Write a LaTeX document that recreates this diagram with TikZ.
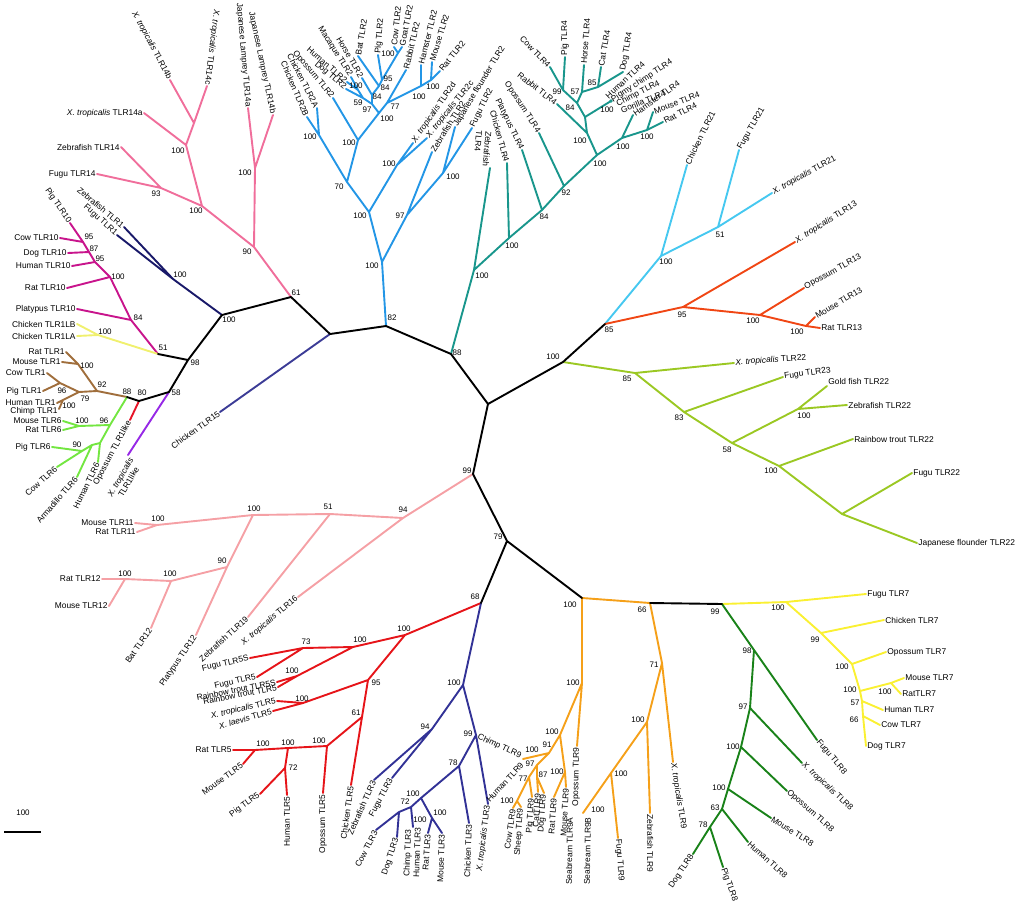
\documentclass[tikz,border=0pt]{standalone}
\usepackage{fontspec}
\usetikzlibrary{calc}
\setmainfont{Liberation Sans}
\definecolor{cpk}{RGB}{240,110,155}
\definecolor{cnv}{RGB}{25,25,105}
\definecolor{cmg}{RGB}{200,20,140}
\definecolor{cyl}{RGB}{240,240,110}
\definecolor{cbr}{RGB}{160,110,60}
\definecolor{cgr}{RGB}{115,230,65}
\definecolor{crd}{RGB}{230,20,40}
\definecolor{cpu}{RGB}{150,40,230}
\definecolor{csl}{RGB}{60,60,150}
\definecolor{cbl}{RGB}{35,150,230}
\definecolor{ctl}{RGB}{25,150,140}
\definecolor{csk}{RGB}{70,200,240}
\definecolor{cor}{RGB}{240,70,20}
\definecolor{clm}{RGB}{155,200,35}
\definecolor{clp}{RGB}{245,160,165}
\definecolor{cr5}{RGB}{230,20,25}
\definecolor{cd3}{RGB}{50,50,150}
\definecolor{co9}{RGB}{245,160,25}
\definecolor{cy7}{RGB}{250,240,50}
\definecolor{cg8}{RGB}{25,130,25}
\newcounter{bsc}
\newcommand\bsl[3]{\stepcounter{bsc}\node[bs] (bs\arabic{bsc}) at (#1,#2) {#3};}
\newcommand\leaf[4]{\node[lb,anchor=#2,rotate=#3] (L#1) at (#1) {#4};}
\newcommand\XT{\textit{X. tropicalis}}
\begin{document}
\begin{tikzpicture}[x=1pt,y=-1pt,
  br/.style={line width=1.9pt, line cap=round, line join=round},
  lb/.style={font=\fontsize{8.4}{9.4}\selectfont, inner sep=1.2pt},
  bs/.style={font=\fontsize{8}{9}\selectfont, inner sep=0pt}]
\useasboundingbox (0,0) rectangle (1023,905);
% ---------- backbone
\coordinate (R0) at (488,404);
\coordinate (B88) at (451,354);
\coordinate (B82) at (386,326);
\coordinate (B15) at (330,334);
\coordinate (B61) at (291,297);
\coordinate (B100a) at (222,315);
\coordinate (B98) at (188,360);
\coordinate (B51) at (158,354);
\coordinate (B58) at (169,392);
\coordinate (B80) at (139,401);
\coordinate (B88b) at (127,397);
\coordinate (N100r) at (563,362);
\coordinate (N85) at (605,324);
\coordinate (B99) at (473,474);
\coordinate (B79) at (507,541);
\coordinate (B68) at (481,603);
\coordinate (O100) at (582,598);
\coordinate (O66) at (650,603);
\coordinate (Y99) at (722,604);
% ---------- TLR14
\coordinate (P90) at (254,247);
\coordinate (P100L) at (255,168);
\coordinate (JL14a) at (248,108);
\coordinate (JL14b) at (273,115);
\coordinate (P100F) at (202,206);
\coordinate (P93) at (161,188);
\coordinate (Fugu14) at (97,174);
\coordinate (Zf14) at (121,147);
\coordinate (P100X) at (186,145);
\coordinate (X14a) at (144,113);
\coordinate (PX) at (194,123);
\coordinate (X14b) at (170,80);
\coordinate (X14c) at (207,86);
\draw[br,cpk] (B61)--(P90) (P90)--(P100L) (P100L)--(JL14a) (P100L)--(JL14b) (P90)--(P100F) (P100F)--(P93) (P93)--(Fugu14) (P93)--(Zf14) (P100F)--(P100X) (P100X)--(X14a) (P100X)--(PX) (PX)--(X14b) (PX)--(X14c);
% ---------- TLR1 fish
\coordinate (N100) at (173,279);
\coordinate (Zf1) at (124,227);
\coordinate (Fugu1) at (117,235);
\draw[br,cnv] (B100a)--(N100) (N100)--(Zf1) (N100)--(Fugu1);
% ---------- TLR10
\coordinate (M84) at (131,320);
\coordinate (M100) at (110,277);
\coordinate (M95a) at (95,262);
\coordinate (M87) at (89,252);
\coordinate (M95b) at (83,242);
\coordinate (Plat10) at (77,309);
\coordinate (Rat10) at (67,288);
\coordinate (Hum10) at (72,266);
\coordinate (Dog10) at (68,253);
\coordinate (Cow10) at (60,238);
\coordinate (Pig10) at (70,223);
\draw[br,cmg] (B51)--(M84) (M84)--(Plat10) (M84)--(M100) (M100)--(Rat10) (M100)--(M95a) (M95a)--(Hum10) (M95a)--(M87) (M87)--(Dog10) (M87)--(M95b) (M95b)--(Cow10) (M95b)--(Pig10);
% ---------- chicken TLR1L
\coordinate (YL100) at (98,335);
\coordinate (LB) at (77,324);
\coordinate (LA) at (77,336);
\draw[br,cyl] (B51)--(YL100) (YL100)--(LB) (YL100)--(LA);
% ---------- TLR1
\coordinate (Br92) at (97,391);
\coordinate (Br100) at (78,364);
\coordinate (Br79) at (79,392);
\coordinate (Br96) at (60,383);
\coordinate (Br100b) at (63,400);
\coordinate (Rat1) at (66,352);
\coordinate (Mouse1) at (62,362);
\coordinate (Cow1) at (47,373);
\coordinate (Pig1) at (43,391);
\coordinate (Hum1) at (57,403);
\coordinate (Chimp1) at (59,409);
\draw[br,cbr] (B88b)--(Br92) (Br92)--(Br100) (Br100)--(Rat1) (Br100)--(Mouse1) (Br92)--(Br79) (Br79)--(Br96) (Br96)--(Cow1) (Br96)--(Pig1) (Br79)--(Br100b) (Br100b)--(Hum1) (Br100b)--(Chimp1);
% ---------- TLR6
\coordinate (G96) at (110,425);
\coordinate (G100) at (79,426);
\coordinate (Gx) at (100,443);
\coordinate (Ga) at (92,445);
\coordinate (G90) at (82,451);
\coordinate (Mouse6) at (63,421);
\coordinate (Rat6) at (63,430);
\coordinate (Hum6) at (98,462);
\coordinate (Arm6) at (77,477);
\coordinate (Pig6) at (52,447);
\coordinate (Cow6) at (57,467);
\draw[br,cgr] (B88b)--(G96) (G96)--(G100) (G100)--(Mouse6) (G100)--(Rat6) (G96)--(Gx) (Gx)--(Hum6) (Gx)--(Ga) (Ga)--(Arm6) (Ga)--(G90) (G90)--(Pig6) (G90)--(Cow6);
% ---------- TLR1like, TLR15
\coordinate (Op1l) at (130,420);
\coordinate (X1l) at (128,455);
\coordinate (Ch15) at (220,412);
\draw[br,crd] (B80)--(Op1l);
\draw[br,cpu] (B58)--(X1l);
\draw[br,csl] (B15)--(Ch15);
% ---------- TLR2
\coordinate (BL100) at (382,262);
\coordinate (BL100b) at (369,212);
\coordinate (BL70) at (347,182);
\coordinate (BL100c) at (319,135);
\coordinate (Ch2A) at (317,108);
\coordinate (Ch2B) at (307,117);
\coordinate (BL100d) at (358,140);
\coordinate (Op2) at (333,98);
\coordinate (BLe) at (379,113);
\coordinate (BL97) at (372,104);
\coordinate (BL59) at (363,98);
\coordinate (Dog2) at (346,89);
\coordinate (BLhm) at (358,90);
\coordinate (Hum2) at (347,82);
\coordinate (Mac2) at (351,77);
\coordinate (BL84a) at (372,95);
\coordinate (Horse2) at (362,78);
\coordinate (BL84b) at (379,86);
\coordinate (Bat2) at (358,56);
\coordinate (BL95) at (382,80);
\coordinate (Pig2) at (378,55);
\coordinate (BLcg) at (398,53);
\coordinate (Cow2) at (394,47);
\coordinate (Goat2) at (402,47);
\coordinate (BL77) at (387,103);
\coordinate (Rab2) at (406,70);
\coordinate (BLr) at (421,86);
\coordinate (Ham2) at (421,65);
\coordinate (BLr2) at (431,80);
\coordinate (Mouse2) at (432,62);
\coordinate (Rat2) at (440,71);
\coordinate (BLx) at (397,165);
\coordinate (X2d) at (413,143);
\coordinate (X2c) at (427,138);
\coordinate (BL97f) at (407,215);
\coordinate (Zf2) at (432,152);
\coordinate (BL100f) at (443,173);
\coordinate (JF2) at (455,127);
\coordinate (Fugu2) at (472,128);
\draw[br,cbl] (B82)--(BL100) (BL100)--(BL100b) (BL100b)--(BL70) (BL70)--(BL100c) (BL100c)--(Ch2A) (BL100c)--(Ch2B) (BL70)--(BL100d) (BL100d)--(Op2) (BL100d)--(BLe) (BLe)--(BL97) (BL97)--(BL59) (BL59)--(Dog2) (BL59)--(BLhm) (BLhm)--(Hum2) (BLhm)--(Mac2) (BL97)--(BL84a) (BL84a)--(Horse2) (BL84a)--(BL84b) (BL84b)--(Bat2) (BL84b)--(BL95) (BL95)--(Pig2) (BL95)--(BLcg) (BLcg)--(Cow2) (BLcg)--(Goat2) (BLe)--(BL77) (BL77)--(Rab2) (BL77)--(BLr) (BLr)--(Ham2) (BLr)--(BLr2) (BLr2)--(Mouse2) (BLr2)--(Rat2) (BL100b)--(BLx) (BLx)--(X2d) (BLx)--(X2c) (BL100)--(BL97f) (BL97f)--(Zf2) (BL97f)--(BL100f) (BL100f)--(JF2) (BL100f)--(Fugu2);
% ---------- TLR4
\coordinate (Tz) at (474,270);
\coordinate (Zf4) at (490,168);
\coordinate (T100a) at (509,238);
\coordinate (Ch4) at (507,163);
\coordinate (T84) at (542,210);
\coordinate (Plat4) at (522,150);
\coordinate (T92) at (564,186);
\coordinate (Op4) at (539,133);
\coordinate (T100b) at (597,155);
\coordinate (T100r) at (587,133);
\coordinate (Rab4) at (557,104);
\coordinate (Te) at (585,117);
\coordinate (T84b) at (577,103);
\coordinate (T99) at (563,90);
\coordinate (Pig4) at (565,57);
\coordinate (Cow4) at (550,67);
\coordinate (T57) at (582,92);
\coordinate (Horse4) at (584,65);
\coordinate (T85) at (598,87);
\coordinate (Cat4) at (601,67);
\coordinate (Dog4) at (623,72);
\coordinate (Tp) at (611,101);
\coordinate (TR1) at (622,138);
\coordinate (Ham4) at (633,115);
\coordinate (TR2) at (647,130);
\coordinate (Mouse4) at (653,112);
\coordinate (Rat4) at (663,122);
\draw[br,ctl] (B88)--(Tz) (Tz)--(Zf4) (Tz)--(T100a) (T100a)--(Ch4) (T100a)--(T84) (T84)--(Plat4) (T84)--(T92) (T92)--(Op4) (T92)--(T100b) (T100b)--(T100r) (T100r)--(Rab4) (T100r)--(Te) (Te)--(T84b) (Te)--(Tp) (T84b)--(T99) (T99)--(Pig4) (T99)--(Cow4) (T84b)--(T57) (T57)--(Horse4) (T57)--(T85) (T85)--(Cat4) (T85)--(Dog4) (T100b)--(TR1) (TR1)--(Ham4) (TR1)--(TR2) (TR2)--(Mouse4) (TR2)--(Rat4);
\fill[ctl] (Tp) circle (1.9);
% ---------- TLR21
\coordinate (S100) at (661,256);
\coordinate (Ch21) at (687,165);
\coordinate (S51) at (718,227);
\coordinate (Fugu21) at (739,150);
\coordinate (X21) at (772,193);
\draw[br,csk] (N85)--(S100) (S100)--(Ch21) (S100)--(S51) (S51)--(Fugu21) (S51)--(X21);
% ---------- TLR13
\coordinate (O95) at (683,307);
\coordinate (X13) at (795,242);
\coordinate (O100m) at (760,315);
\coordinate (Op13) at (804,288);
\coordinate (O100n) at (806,326);
\coordinate (Mouse13) at (815,317);
\coordinate (Rat13) at (820,328);
\draw[br,cor] (N85)--(O95) (O95)--(X13) (O95)--(O100m) (O100m)--(Op13) (O100m)--(O100n) (O100n)--(Mouse13) (O100n)--(Rat13);
% ---------- TLR22
\coordinate (L85) at (635,373);
\coordinate (X22) at (734,363);
\coordinate (L83) at (684,412);
\coordinate (Fugu23) at (783,377);
\coordinate (L58) at (732,443);
\coordinate (L100) at (798,409);
\coordinate (Gold22) at (827,386);
\coordinate (Zf22) at (847,405);
\coordinate (L100b) at (779,466);
\coordinate (RT22) at (853,439);
\coordinate (Lx) at (842,514);
\coordinate (Fugu22) at (912,473);
\coordinate (JF22) at (917,543);
\draw[br,clm] (N100r)--(L85) (L85)--(X22) (L85)--(L83) (L83)--(Fugu23) (L83)--(L58) (L58)--(L100) (L100)--(Gold22) (L100)--(Zf22) (L58)--(L100b) (L100b)--(RT22) (L100b)--(Lx) (Lx)--(Fugu22) (Lx)--(JF22);
% ---------- TLR11/12/16/19
\coordinate (P94) at (403,518);
\coordinate (X16) at (298,597);
\coordinate (P51) at (330,514);
\coordinate (Zf19) at (248,617);
\coordinate (P100) at (253,515);
\coordinate (P100m) at (157,525);
\coordinate (Mouse11) at (135,523);
\coordinate (Rat11) at (137,532);
\coordinate (P90b) at (227,567);
\coordinate (Plat12) at (196,635);
\coordinate (P100b) at (171,581);
\coordinate (Bat12) at (151,628);
\coordinate (P100c) at (125,579);
\coordinate (Rat12) at (102,579);
\coordinate (Mouse12) at (109,606);
\draw[br,clp] (B99)--(P94) (P94)--(X16) (P94)--(P51) (P51)--(Zf19) (P51)--(P100) (P100)--(P100m) (P100m)--(Mouse11) (P100m)--(Rat11) (P100)--(P90b) (P90b)--(Plat12) (P90b)--(P100b) (P100b)--(Bat12) (P100b)--(P100c) (P100c)--(Rat12) (P100c)--(Mouse12);
% ---------- TLR5
\coordinate (R100) at (405,635);
\coordinate (R100b) at (353,647);
\coordinate (R73) at (303,648);
\coordinate (Fugu5S) at (250,658);
\coordinate (Fugu5) at (257,677);
\coordinate (R100c) at (297,676);
\coordinate (RT5S) at (277,682);
\coordinate (RT5) at (278,687);
\coordinate (R95) at (368,680);
\coordinate (R100d) at (303,703);
\coordinate (X5) at (277,701);
\coordinate (XL5) at (273,711);
\coordinate (R61) at (362,717);
\coordinate (Ch5) at (351,785);
\coordinate (R100e) at (327,746);
\coordinate (Op5) at (323,793);
\coordinate (R100f) at (288,748);
\coordinate (R72) at (285,768);
\coordinate (Pig5) at (260,794);
\coordinate (Hum5) at (287,795);
\coordinate (R100g) at (255,750);
\coordinate (Rat5) at (233,750);
\coordinate (Mouse5) at (243,764);
\draw[br,cr5] (B68)--(R100) (R100)--(R100b) (R100b)--(R73) (R73)--(Fugu5S) (R73)--(Fugu5) (R100b)--(R100c) (R100c)--(RT5S) (R100c)--(RT5) (R100)--(R95) (R95)--(R100d) (R100d)--(X5) (R100d)--(XL5) (R95)--(R61) (R61)--(Ch5) (R61)--(R100e) (R100e)--(Op5) (R100e)--(R100f) (R100f)--(R72) (R72)--(Pig5) (R72)--(Hum5) (R100f)--(R100g) (R100g)--(Rat5) (R100g)--(Mouse5);
% ---------- TLR3
\coordinate (D100) at (463,685);
\coordinate (D94) at (432,729);
\coordinate (Zf3) at (374,780);
\coordinate (Fugu3) at (392,778);
\coordinate (D99) at (476,735);
\coordinate (X3) at (488,804);
\coordinate (D78) at (459,766);
\coordinate (Ch3) at (469,823);
\coordinate (D100b) at (421,798);
\coordinate (D72) at (411,807);
\coordinate (Dcd) at (399,812);
\coordinate (Cow3) at (376,830);
\coordinate (Dog3) at (397,837);
\coordinate (Dch) at (413,827);
\coordinate (D100c) at (432,818);
\coordinate (Rat3) at (428,833);
\coordinate (Mouse3) at (442,833);
\draw[br,cd3] (B68)--(D100) (D100)--(D94) (D94)--(Zf3) (D94)--(Fugu3) (D100)--(D99) (D99)--(X3) (D99)--(D78) (D78)--(Ch3) (D78)--(D100b) (D100b)--(D72) (D72)--(Dcd) (Dcd)--(Cow3) (Dcd)--(Dog3) (D72)--(Dch) (D100b)--(D100c) (D100c)--(Rat3) (D100c)--(Mouse3);
% ---------- TLR9
\coordinate (O100a) at (582,683);
\coordinate (Op9) at (577,746);
\coordinate (O100b) at (560,735);
\coordinate (O100c) at (565,772);
\coordinate (Rat9) at (554,797);
\coordinate (Mouse9) at (566,787);
\coordinate (O91) at (549,753);
\coordinate (Ohc) at (523,759);
\coordinate (O97) at (537,765);
\coordinate (O77) at (529,777);
\coordinate (O100s) at (517,801);
\coordinate (Cow9) at (513,808);
\coordinate (Sheep9) at (521,807);
\coordinate (Pig9) at (532,797);
\coordinate (O87) at (537,777);
\coordinate (Cat9) at (538,792);
\coordinate (Dog9) at (544,793);
\coordinate (O71) at (662,663);
\coordinate (X9) at (673,762);
\coordinate (O100d) at (647,722);
\coordinate (Zf9) at (650,813);
\coordinate (O100e) at (611,773);
\coordinate (Fugu9) at (618,838);
\coordinate (Sea9) at (583,813);
\draw[br,co9] (O100)--(O66) (O100)--(O100a) (O100a)--(Op9) (O100a)--(O100b) (O100b)--(O100c) (O100c)--(Rat9) (O100c)--(Mouse9) (O100b)--(O91) (O91)--(Ohc) (O91)--(O97) (O97)--(O77) (O77)--(O100s) (O100s)--(Cow9) (O100s)--(Sheep9) (O77)--(Pig9) (O97)--(O87) (O87)--(Cat9) (O87)--(Dog9) (O66)--(O71) (O71)--(X9) (O71)--(O100d) (O100d)--(Zf9) (O100d)--(O100e) (O100e)--(Fugu9) (O100e)--(Sea9);
% ---------- TLR7
\coordinate (Y100) at (786,602);
\coordinate (Fugu7) at (866,594);
\coordinate (Y99b) at (821,633);
\coordinate (Ch7) at (884,620);
\coordinate (Y100c) at (852,664);
\coordinate (Op7) at (886,652);
\coordinate (Y100d) at (860,691);
\coordinate (Ym) at (891,683);
\coordinate (Mouse7) at (904,678);
\coordinate (Rat7) at (901,694);
\coordinate (Y57) at (862,701);
\coordinate (Hum7) at (883,710);
\coordinate (Y66) at (863,716);
\coordinate (Cow7) at (880,725);
\coordinate (Dog7) at (866,746);
\draw[br,cy7] (Y99)--(Y100) (Y100)--(Fugu7) (Y100)--(Y99b) (Y99b)--(Ch7) (Y99b)--(Y100c) (Y100c)--(Op7) (Y100c)--(Y100d) (Y100d)--(Ym) (Ym)--(Mouse7) (Ym)--(Rat7) (Y100d)--(Y57) (Y57)--(Hum7) (Y57)--(Y66) (Y66)--(Cow7) (Y66)--(Dog7);
% ---------- TLR8
\coordinate (G98) at (754,650);
\coordinate (Fugu8) at (817,740);
\coordinate (G97) at (750,708);
\coordinate (X8) at (802,763);
\coordinate (G100c) at (741,747);
\coordinate (Op8) at (787,791);
\coordinate (G100d) at (728,789);
\coordinate (Mouse8) at (771,818);
\coordinate (G63) at (722,809);
\coordinate (Hum8) at (748,842);
\coordinate (G78) at (710,827);
\coordinate (Pig8) at (723,867);
\coordinate (Dog8) at (693,854);
\draw[br,cg8] (Y99)--(G98) (G98)--(Fugu8) (G98)--(G97) (G97)--(X8) (G97)--(G100c) (G100c)--(Op8) (G100c)--(G100d) (G100d)--(Mouse8) (G100d)--(G63) (G63)--(Hum8) (G63)--(G78) (G78)--(Pig8) (G78)--(Dog8);
% ---------- black backbone on top
\draw[br,black] (R0)--(B88) (B88)--(B82) (B82)--(B15) (B15)--(B61) (B61)--(B100a) (B100a)--(B98) (B98)--(B51) (B98)--(B58) (B58)--(B80) (B80)--(B88b) (R0)--(N100r) (N100r)--(N85) (R0)--(B99) (B99)--(B79) (B79)--(B68) (B79)--(O100) (O66)--(Y99);
% scale bar
\coordinate (sb1) at (4,832);
\coordinate (sb2) at (41,832);
\draw[line width=1.9pt] (sb1)--(sb2);
\node[bs] (sblab) at (23,813) {100};
% ---------- leaf labels
\leaf{X14b}{east}{-62}{\XT{} TLR14b}
\leaf{X14c}{east}{-97}{\XT{} TLR14c}
\leaf{JL14a}{east}{-85}{Japanese Lamprey TLR14a}
\leaf{JL14b}{east}{-78}{Japanese Lamprey TLR14b}
\leaf{X14a}{east}{0}{\XT{} TLR14a}
\leaf{Zf14}{east}{0}{Zebrafish TLR14}
\leaf{Fugu14}{east}{0}{Fugu TLR14}
\leaf{Zf1}{east}{-40}{Zebrafish TLR1}
\leaf{Fugu1}{east}{-42}{Fugu TLR1}
\leaf{Pig10}{east}{-56}{Pig TLR10}
\leaf{Cow10}{east}{0}{Cow TLR10}
\leaf{Dog10}{east}{0}{Dog TLR10}
\leaf{Hum10}{east}{0}{Human TLR10}
\leaf{Rat10}{east}{0}{Rat TLR10}
\leaf{Plat10}{east}{0}{Platypus TLR10}
\leaf{LB}{east}{0}{Chicken TLR1LB}
\leaf{LA}{east}{0}{Chicken TLR1LA}
\leaf{Rat1}{east}{0}{Rat TLR1}
\leaf{Mouse1}{east}{0}{Mouse TLR1}
\leaf{Cow1}{east}{0}{Cow TLR1}
\leaf{Pig1}{east}{0}{Pig TLR1}
\leaf{Hum1}{east}{0}{Human TLR1}
\node[lb,anchor=east] (LChimp1) at ($(Chimp1)+(0,2)$) {Chimp TLR1};
\leaf{Mouse6}{east}{0}{Mouse TLR6}
\leaf{Rat6}{east}{0}{Rat TLR6}
\leaf{Pig6}{east}{0}{Pig TLR6}
\leaf{Cow6}{east}{42}{Cow TLR6}
\leaf{Arm6}{east}{49}{Armadillo TLR6}
\leaf{Hum6}{east}{64}{Human TLR6}
\leaf{Op1l}{east}{62}{Opossum TLR1like}
\node[lb,anchor=north east,rotate=60,align=center] (LX1l) at (X1l) {\XT\\TLR1like};
\leaf{Ch15}{east}{36}{Chicken TLR15}
\leaf{Ch2B}{east}{-67}{Chicken TLR2B}
\leaf{Ch2A}{east}{-63}{Chicken TLR2A}
\leaf{Op2}{east}{-50}{Opossum TLR2}
\leaf{Dog2}{east}{-40}{Dog TLR2}
\leaf{Hum2}{east}{-41}{Human TLR2}
\leaf{Mac2}{east}{-58}{Macaque TLR2}
\leaf{Horse2}{east}{-60}{Horse TLR2}
\leaf{Bat2}{west}{80}{Bat TLR2}
\leaf{Pig2}{west}{85}{Pig TLR2}
\leaf{Cow2}{west}{84}{Cow TLR2}
\leaf{Goat2}{west}{79}{Goat TLR2}
\leaf{Rab2}{west}{77}{Rabbit TLR2}
\leaf{Ham2}{west}{76}{Hamster TLR2}
\leaf{Mouse2}{west}{73}{Mouse TLR2}
\leaf{Rat2}{west}{51}{Rat TLR2}
\leaf{X2d}{west}{55}{\XT{} TLR2d}
\leaf{X2c}{west}{51}{\XT{} TLR2c}
\leaf{Zf2}{west}{58}{Zebrafish TLR2}
\leaf{JF2}{west}{59}{Japanese flounder TLR2}
\leaf{Fugu2}{west}{64}{Fugu TLR2}
\node[lb,anchor=north east,rotate=-95,align=left] (LZf4) at (Zf4) {Zebrafish\\TLR4};
\leaf{Ch4}{east}{-75}{Chicken TLR4}
\leaf{Plat4}{east}{-64}{Platypus TLR4}
\leaf{Op4}{east}{-57}{Opossum TLR4}
\leaf{Rab4}{east}{-38}{Rabbit TLR4}
\leaf{Cow4}{east}{-46}{Cow TLR4}
\leaf{Pig4}{west}{90}{Pig TLR4}
\leaf{Horse4}{west}{86}{Horse TLR4}
\leaf{Cat4}{west}{80}{Cat TLR4}
\leaf{Dog4}{west}{80}{Dog TLR4}
\node[lb,anchor=west,rotate=43] (LHum4) at ($(Tp)+(-5,-3)$) {Human TLR4};
\node[lb,anchor=west,rotate=33] (LPig4) at ($(Tp)+(0,0)$) {Pigmy chimp TLR4};
\node[lb,anchor=west,rotate=27] (LChi4) at ($(Tp)+(5,4)$) {Chimp TLR4};
\node[lb,anchor=west,rotate=22] (LGor4) at ($(Tp)+(9,10)$) {Gorilla TLR4};
\leaf{Ham4}{west}{35}{Hamster TLR4}
\leaf{Mouse4}{west}{21}{Mouse TLR4}
\leaf{Rat4}{west}{27}{Rat TLR4}
\leaf{Ch21}{west}{64}{Chicken TLR21}
\leaf{Fugu21}{west}{60}{Fugu TLR21}
\leaf{X21}{west}{29}{\XT{} TLR21}
\leaf{X13}{west}{32}{\XT{} TLR13}
\leaf{Op13}{west}{29}{Opossum TLR13}
\leaf{Mouse13}{west}{31}{Mouse TLR13}
\leaf{Rat13}{west}{0}{Rat TLR13}
\leaf{X22}{west}{4}{\XT{} TLR22}
\leaf{Fugu23}{west}{8}{Fugu TLR23}
\leaf{Gold22}{south west}{0}{Gold fish TLR22}
\leaf{Zf22}{west}{0}{Zebrafish TLR22}
\leaf{RT22}{west}{0}{Rainbow trout TLR22}
\leaf{Fugu22}{west}{0}{Fugu TLR22}
\leaf{JF22}{west}{0}{Japanese flounder TLR22}
\leaf{Mouse11}{east}{0}{Mouse TLR11}
\leaf{Rat11}{east}{0}{Rat TLR11}
\leaf{Rat12}{east}{0}{Rat TLR12}
\leaf{Mouse12}{east}{0}{Mouse TLR12}
\leaf{Bat12}{east}{55}{Bat TLR12}
\leaf{Plat12}{east}{56}{Platypus TLR12}
\leaf{Zf19}{east}{42}{Zebrafish TLR19}
\leaf{X16}{east}{40}{\XT{} TLR16}
\leaf{Fugu5S}{east}{13}{Fugu TLR5S}
\leaf{Fugu5}{east}{13}{Fugu TLR5}
\leaf{RT5S}{east}{11}{Rainbow trout TLR5S}
\leaf{RT5}{east}{11}{Rainbow trout TLR5}
\leaf{X5}{east}{13}{\XT{} TLR5}
\leaf{XL5}{east}{16}{\textit{X. laevis} TLR5}
\leaf{Rat5}{east}{0}{Rat TLR5}
\leaf{Mouse5}{east}{36}{Mouse TLR5}
\leaf{Pig5}{east}{36}{Pig TLR5}
\leaf{Hum5}{east}{90}{Human TLR5}
\leaf{Op5}{east}{90}{Opossum TLR5}
\leaf{Ch5}{east}{82}{Chicken TLR5}
\leaf{Zf3}{east}{66}{Zebrafish TLR3}
\leaf{Fugu3}{east}{62}{Fugu TLR3}
\leaf{Cow3}{east}{63}{Cow TLR3}
\leaf{Dog3}{east}{72}{Dog TLR3}
\node[lb,anchor=east,rotate=88] (LChi3) at ($(Dch)+(-4,1)$) {Chimp TLR3};
\node[lb,anchor=east,rotate=88] (LHum3) at ($(Dch)+(5,-1)$) {Human TLR3};
\leaf{Rat3}{east}{86}{Rat TLR3}
\leaf{Mouse3}{east}{88}{Mouse TLR3}
\leaf{Ch3}{east}{88}{Chicken TLR3}
\leaf{X3}{east}{83}{\XT{} TLR3}
\node[lb,anchor=east,rotate=-25] (LChi9) at ($(Ohc)+(-1,-2)$) {Chimp TLR9};
\node[lb,anchor=east,rotate=47] (LHum9) at ($(Ohc)+(0,4)$) {Human TLR9};
\leaf{Cow9}{east}{82}{Cow TLR9}
\leaf{Sheep9}{east}{86}{Sheep TLR9}
\leaf{Pig9}{east}{86}{Pig TLR9}
\leaf{Cat9}{east}{86}{CatTLR9}
\leaf{Dog9}{east}{86}{Dog TLR9}
\leaf{Rat9}{east}{86}{Rat TLR9}
\leaf{Mouse9}{east}{87}{Mouse TLR9}
\leaf{Op9}{east}{89}{Opossum TLR9}
\node[lb,anchor=east,rotate=89] (LSea9A) at ($(Sea9)+(-13,3)$) {Seabream TLR9A};
\node[lb,anchor=east,rotate=89] (LSea9B) at ($(Sea9)+(5,3)$) {Seabream TLR9B};
\leaf{Fugu9}{west}{-86}{Fugu TLR9}
\leaf{Zf9}{west}{-90}{Zebrafish TLR9}
\leaf{X9}{west}{-81}{\XT{} TLR9}
\leaf{Fugu7}{west}{0}{Fugu TLR7}
\leaf{Ch7}{west}{0}{Chicken TLR7}
\leaf{Op7}{west}{0}{Opossum TLR7}
\leaf{Mouse7}{west}{0}{Mouse TLR7}
\leaf{Rat7}{west}{0}{RatTLR7}
\leaf{Hum7}{west}{0}{Human TLR7}
\leaf{Cow7}{west}{0}{Cow TLR7}
\leaf{Dog7}{west}{0}{Dog TLR7}
\leaf{Fugu8}{west}{-50}{Fugu TLR8}
\leaf{X8}{west}{-43}{\XT{} TLR8}
\leaf{Op8}{west}{-41}{Opossum TLR8}
\leaf{Mouse8}{west}{-32}{Mouse TLR8}
\leaf{Hum8}{west}{-42}{Human TLR8}
\leaf{Pig8}{west}{-71}{Pig TLR8}
\leaf{Dog8}{east}{56}{Dog TLR8}
% ---------- bootstrap values
\bsl{457}{353}{88}\bsl{392}{318}{82}\bsl{296}{293}{61}\bsl{229}{320}{100}
\bsl{195}{363}{98}\bsl{163}{348}{51}\bsl{176}{393}{58}\bsl{142}{393}{80}\bsl{127}{392}{88}
\bsl{553}{357}{100}\bsl{609}{330}{85}\bsl{467}{471}{99}\bsl{498}{537}{79}\bsl{475}{597}{68}
\bsl{570}{605}{100}\bsl{642}{610}{66}\bsl{715}{612}{99}
% TLR14
\bsl{247}{252}{90}\bsl{245}{173}{100}\bsl{196}{211}{100}\bsl{156}{194}{93}\bsl{178}{151}{100}
\bsl{180}{275}{100}
% TLR10 etc
\bsl{138}{318}{84}\bsl{118}{277}{100}\bsl{100}{259}{95}\bsl{94}{249}{87}\bsl{89}{237}{95}
\bsl{105}{332}{100}
\bsl{102}{385}{92}\bsl{87}{366}{100}\bsl{85}{399}{79}\bsl{62}{391}{96}\bsl{69}{406}{100}
\bsl{104}{421}{96}\bsl{82}{421}{100}\bsl{77}{445}{90}
% TLR2
\bsl{372}{266}{100}\bsl{360}{216}{100}\bsl{339}{187}{70}\bsl{310}{137}{100}\bsl{349}{143}{100}
\bsl{387}{119}{100}\bsl{367}{110}{97}\bsl{358}{103}{59}\bsl{356}{86}{100}\bsl{377}{97}{84}
\bsl{385}{88}{84}\bsl{388}{79}{95}\bsl{388}{54}{100}\bsl{395}{107}{77}\bsl{419}{97}{100}\bsl{433}{87}{100}
\bsl{389}{164}{100}\bsl{400}{216}{97}\bsl{453}{177}{100}
% TLR4
\bsl{482}{276}{100}
\bsl{512}{246}{100}\bsl{544}{217}{84}\bsl{566}{193}{92}\bsl{600}{164}{100}\bsl{580}{141}{100}
\bsl{570}{108}{84}\bsl{557}{92}{99}\bsl{575}{92}{57}\bsl{592}{83}{85}\bsl{607}{110}{100}
\bsl{623}{147}{100}\bsl{647}{137}{100}
% TLR21/13/22
\bsl{666}{262}{100}\bsl{720}{235}{51}
\bsl{682}{315}{95}\bsl{753}{321}{100}\bsl{797}{332}{100}
\bsl{627}{379}{85}\bsl{679}{418}{83}\bsl{727}{450}{58}\bsl{804}{416}{100}\bsl{771}{471}{100}
% TLR11/12
\bsl{403}{510}{94}\bsl{328}{507}{51}\bsl{254}{509}{100}\bsl{158}{519}{100}\bsl{222}{561}{90}
\bsl{170}{574}{100}\bsl{125}{574}{100}
% TLR5
\bsl{404}{629}{100}\bsl{360}{640}{100}\bsl{306}{642}{73}\bsl{292}{671}{100}\bsl{376}{683}{95}
\bsl{302}{699}{100}\bsl{356}{713}{61}\bsl{319}{741}{100}\bsl{288}{743}{100}\bsl{293}{768}{72}\bsl{263}{744}{100}
% TLR3
\bsl{454}{683}{100}\bsl{425}{727}{94}\bsl{468}{734}{99}\bsl{453}{763}{78}\bsl{413}{794}{100}
\bsl{405}{802}{72}\bsl{420}{820}{100}\bsl{440}{813}{100}
% TLR9
\bsl{573}{683}{100}\bsl{552}{732}{100}\bsl{557}{772}{100}\bsl{547}{745}{91}\bsl{532}{750}{100}
\bsl{530}{764}{97}\bsl{523}{779}{77}\bsl{507}{801}{100}\bsl{543}{775}{87}
\bsl{654}{665}{71}\bsl{638}{720}{100}\bsl{621}{774}{100}\bsl{598}{810}{100}
% TLR7
\bsl{778}{608}{100}\bsl{815}{640}{99}\bsl{842}{667}{100}\bsl{850}{690}{100}\bsl{885}{692}{100}
\bsl{855}{703}{57}\bsl{854}{720}{66}
% TLR8
\bsl{747}{651}{98}\bsl{743}{707}{97}\bsl{733}{747}{100}\bsl{719}{788}{100}\bsl{715}{808}{63}\bsl{703}{825}{78}
\end{tikzpicture}
\end{document}
